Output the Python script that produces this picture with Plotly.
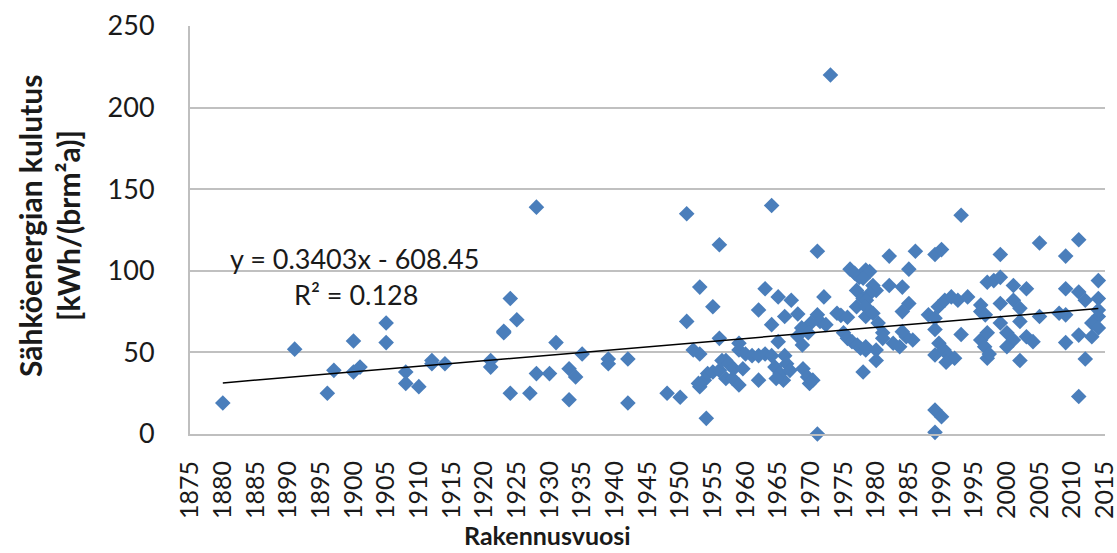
import plotly.graph_objects as go

# ---- data ----
years = [
    1880, 1891, 1896, 1897, 1900, 1900, 1901, 1905, 1905, 1908, 1908, 1910, 1912, 1912, 1914,
    1921, 1921, 1923, 1923, 1924, 1925, 1924, 1927, 1928, 1928, 1930, 1931, 1933, 1934, 1933, 1935,
    1939, 1939, 1942, 1942, 1948, 1950, 1951, 1951, 1952, 1953, 1953, 1955, 1956, 1956, 1954,
    1953, 1953.7, 1954.2, 1955, 1956, 1952.8, 1957, 1957,
    1964, 1971, 1963, 1965, 1967, 1962, 1966, 1968, 1964, 1972, 1971, 1971.4, 1970, 1972.3,
    1968.6, 1969.6, 1968, 1968.7, 1965, 1959, 1959, 1960, 1961, 1962, 1963, 1964, 1966,
    1956.4, 1957.4, 1958.2, 1959.6, 1958, 1959, 1962, 1964.5, 1965.3, 1965.8, 1966.3, 1966.8, 1964.7,
    1968.8, 1969.5, 1969.8, 1970.3, 1971, 1976, 1976.7, 1977.4, 1978.4, 1977, 1978,
    1974, 1974.6, 1975.6, 1977, 1975, 1975.6, 1976.3, 1977.1, 1977.6, 1978, 1978.4, 1973,
    1993, 1982, 1986, 1989, 1990, 1985, 1979, 1978, 1979.5, 1980, 1979, 1978.5, 1982, 1984,
    1985, 1984, 1989.5, 1990.5, 1991.5, 1992.5, 1994, 1988, 1989, 1978.4, 1978.4, 1979.5, 1980.3,
    1981, 1981, 1982.6, 1983.6, 1984.6, 1985.6, 1984, 1978.4, 1980, 1980, 1989, 1989.6, 1990.4,
    1989, 1991, 1992, 1990.7, 1993, 1996, 1997, 1996, 1996.6, 1997, 1989, 1990, 1989,
    1999, 2005, 2011, 2009, 1998, 1999, 2001, 2003, 2014, 2009, 2011, 2012, 2014, 1999,
    2001, 2002, 1996, 1996.7, 2005, 2008, 2009, 2014, 2013, 1999, 2002, 1997, 2000, 2001, 2000,
    2003, 2004, 1997.3, 2002, 2011, 2013, 2009, 2012, 2011, 2014, 2014,
]
kwh = [
    19, 52, 25, 39, 57, 38, 41, 68, 56, 38, 31, 29, 45, 43, 43,
    45, 41, 63, 62, 83, 70, 25, 25, 139, 37, 37, 56, 40, 35, 21, 49,
    46, 43, 46, 19, 25, 22.5, 135, 69, 51.5, 49, 90, 78, 116, 58.6, 9.6,
    29, 33, 37, 38, 39, 31, 45, 34,
    140, 112, 89, 84, 82, 76, 72, 73.5, 67, 84, 73, 69, 68, 67,
    65, 62, 60, 54.5, 56.6, 55.6, 51.5, 49, 48, 48, 49, 48, 48,
    45, 43, 40, 40, 34, 30, 33, 41, 37, 33, 43, 39, 34,
    40, 35, 31, 33, 0, 101, 98.5, 96, 100.5, 88, 83,
    74, 72.7, 71.5, 78, 62, 58.6, 56.6, 54.5, 52.5, 38, 51.5, 220,
    134, 109, 112, 110, 113, 101, 99.5, 95.4, 91, 88, 86, 82, 91, 90,
    80, 75, 78, 82, 84, 82, 84, 73, 71, 78, 72, 74, 68,
    62, 58.6, 55.6, 53.5, 59.6, 57.6, 62.7, 53.5, 51.5, 45, 64, 55.6, 51.5,
    48.4, 48.4, 46.4, 44, 61, 79, 93, 57.6, 53.5, 46.4, 14.7, 10.6, 1,
    110, 117, 119, 109, 94, 96, 91, 89, 94, 89, 87, 82, 83, 80,
    82, 77, 75, 73, 72, 74, 73, 72, 68, 68, 69, 62, 62, 57.6, 53.5,
    59.6, 56.6, 49, 45, 60.6, 59.6, 56, 46, 23, 76, 65,
]

# trendline as given on the chart
slope = 0.3403
intercept = -608.45
trend_years = [1880, 2014]
trend_vals = [slope * t + intercept for t in trend_years]

x_ticks = list(range(1875, 2016, 5))
y_ticks = [0, 50, 100, 150, 200, 250]

FONT = "Lato"
TXT = "#1a1a1a"

fig = go.Figure()
fig.add_trace(go.Scatter(
    x=years, y=kwh, mode="markers",
    marker=dict(symbol="diamond", size=12, color="#4A7EBB", line=dict(width=0)),
    cliponaxis=False, showlegend=False,
))
fig.add_trace(go.Scatter(
    x=trend_years, y=trend_vals, mode="lines",
    line=dict(color="#000000", width=1.5), showlegend=False,
))

fig.update_layout(
    width=1117, height=553,
    margin=dict(l=190, r=12, t=26, b=119),
    paper_bgcolor="white", plot_bgcolor="white",
    font=dict(family=FONT, size=25, color=TXT),
    xaxis=dict(
        range=[1874.98, 2015.02], tickvals=x_ticks, ticktext=[str(v) for v in x_ticks],
        tickangle=-90, showgrid=False, zeroline=False, automargin=False,
        showline=True, linecolor="#BFBFBF", linewidth=2,
        ticks="", ticklabelstandoff=15, ticklabeloverflow="allow",
        tickfont=dict(family=FONT, size=25, color=TXT),
    ),
    yaxis=dict(
        range=[0, 250], tickvals=y_ticks, automargin=False,
        showgrid=True, gridcolor="#C0C0C0", gridwidth=2, zeroline=False,
        showline=True, linecolor="#BFBFBF", linewidth=2,
        ticks="", ticklabelstandoff=28,
        tickfont=dict(family=FONT, size=27, color=TXT),
    ),
    annotations=[
        dict(text="y = 0.3403x - 608.45", x=1880.8, y=107.8, xref="x", yref="y",
             xanchor="left", yanchor="middle", showarrow=False,
             font=dict(family=FONT, size=27, color=TXT)),
        dict(text="R² = 0.128", x=1890.6, y=85.2, xref="x", yref="y",
             xanchor="left", yanchor="middle", showarrow=False,
             font=dict(family=FONT, size=27, color=TXT)),
        dict(text="<b>Sähköenergian kulutus</b>", x=(30 - 190) / 915, y=0.51,
             xref="paper", yref="paper", xanchor="center", yanchor="middle",
             textangle=-90, showarrow=False,
             font=dict(family=FONT, size=30, color=TXT)),
        dict(text="<b>[kWh/(brm²a)]</b>", x=(68 - 190) / 915, y=0.51,
             xref="paper", yref="paper", xanchor="center", yanchor="middle",
             textangle=-90, showarrow=False,
             font=dict(family=FONT, size=30, color=TXT)),
        dict(text="<b>Rakennusvuosi</b>", x=(547 - 190) / 915, y=-(535 - 434) / 408,
             xref="paper", yref="paper", xanchor="center", yanchor="middle",
             showarrow=False, font=dict(family=FONT, size=25, color=TXT)),
    ],
)

fig.write_html("out.html")
